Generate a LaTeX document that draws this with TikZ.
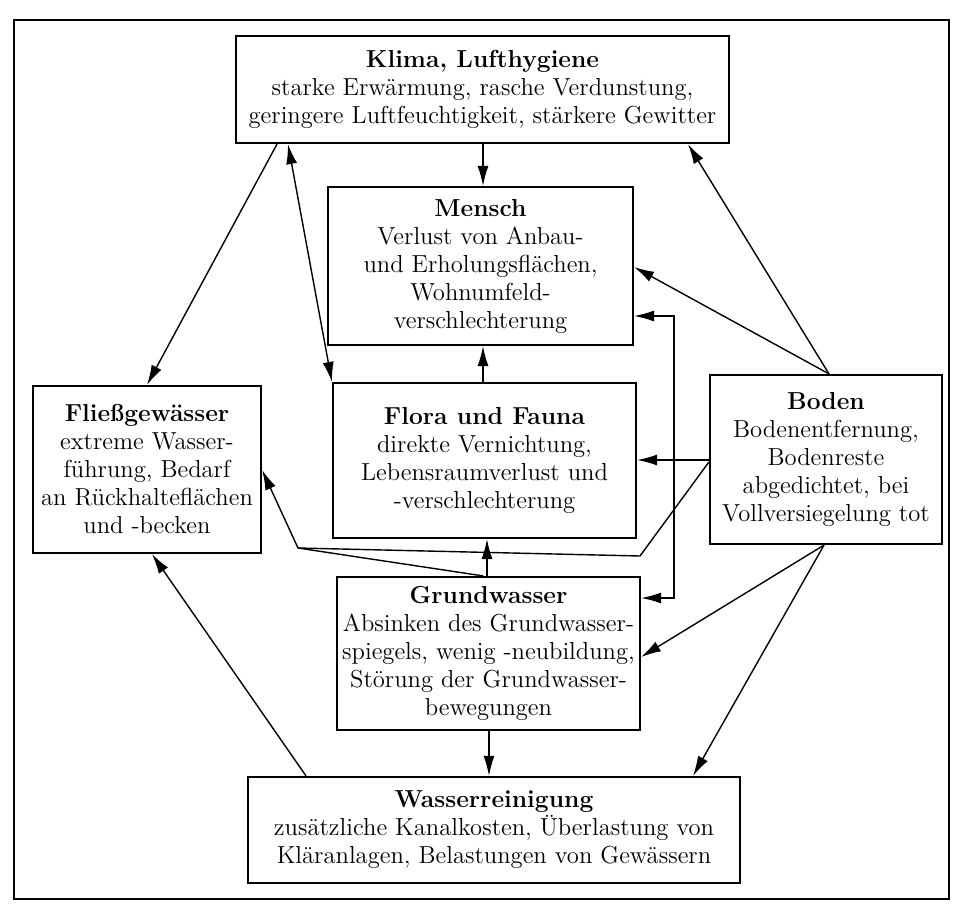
\documentclass[tikz,border=0pt]{standalone}
\usepackage{fontspec}
\usetikzlibrary{arrows.meta,calc}
\begin{document}
\begin{tikzpicture}[x=0.5pt,y=-0.5pt,
  box/.style={draw, line width=1.1pt, align=center, inner sep=0pt,
    font=\fontsize{12.3}{14}\selectfont},
  conn/.style={line width=0.7pt, -{Latex[length=10pt,width=5.5pt]}},
  biconn/.style={line width=0.7pt, {Latex[length=10pt,width=5.5pt]}-{Latex[length=10pt,width=5.5pt]}},
  plain/.style={line width=0.7pt}]
\useasboundingbox (0,0) rectangle (953,905);
\draw[line width=1pt] (14,20) rectangle (949,899);

\node[box, minimum width=246.5pt, minimum height=53.5pt] (klima) at (482.5,89.5)
  {\textbf{Klima, Lufthygiene}\\starke Erwärmung, rasche Verdunstung,\\geringere Luftfeuchtigkeit, stärkere Gewitter};
\node[box, minimum width=152.5pt, minimum height=79pt] (mensch) at (480.5,266)
  {\textbf{Mensch}\\Verlust von Anbau-\\und Erholungsflächen,\\Wohnumfeld-\\verschlechterung};
\node[box, minimum width=151.5pt, minimum height=77.5pt] (flora) at (484.5,460.5)
  {\textbf{Flora und Fauna}\\direkte Vernichtung,\\Lebensraumverlust und\\-verschlechterung};
\node[box, minimum width=114pt, minimum height=83.5pt] (fliess) at (147,469.5)
  {\textbf{Fließgewässer}\\extreme Wasser-\\führung, Bedarf\\an Rückhalteflächen\\und -becken};
\node[box, minimum width=116pt, minimum height=84.5pt] (boden) at (826,459.5)
  {\textbf{Boden}\\Bodenentfernung,\\Bodenreste\\abgedichtet, bei\\Vollversiegelung tot};
\node[box, minimum width=151.5pt, minimum height=76.5pt] (grund) at (488.5,653.5)
  {\textbf{Grundwasser}\\Absinken des Grundwasser-\\spiegels, wenig -neubildung,\\Störung der Grundwasser-\\bewegungen};
\node[box, minimum width=246pt, minimum height=53pt] (wasser) at (494,830)
  {\textbf{Wasserreinigung}\\zusätzliche Kanalkosten, Überlastung von\\Kläranlagen, Belastungen von Gewässern};

\coordinate (merge) at (298,548);
\coordinate (bend) at (640,556);

\draw[conn] (klima.south -| 483,0) -- (mensch.north -| 483,0);
\draw[conn] (klima.south -| 277,0) -- (fliess.north -| 147,0);
\draw[biconn] (klima.south -| 288,0) -- (flora.north west);
\draw[conn] (boden.north -| 829,0) -- (klima.south -| 688,0);
\draw[conn] (boden.north -| 829,0) -- (mensch.east |- 0,267);
\draw[biconn] (mensch.east |- 0,316) -| (674,457) |- (grund.east |- 0,598);
\draw[conn] (boden.west |- 0,460) -- (flora.east |- 0,460);
\draw[plain] (boden.west |- 0,462) -- (bend) -- (merge);
\draw[plain] (grund.north -| 483,0) -- (merge);
\draw[conn] (merge) -- (fliess.east |- 0,470);
\draw[conn] (grund.north -| 487,0) -- (flora.south -| 487,0);
\draw[conn] (flora.north -| 483,0) -- (mensch.south -| 483,0);
\draw[conn] (boden.south -| 824,0) -- (grund.east |- 0,657);
\draw[conn] (boden.south -| 824,0) -- (wasser.north -| 693,0);
\draw[conn] (wasser.north -| 306,0) -- (fliess.south -| 152,0);
\draw[conn] (grund.south -| 489,0) -- (wasser.north -| 489,0);
\end{tikzpicture}
\end{document}
